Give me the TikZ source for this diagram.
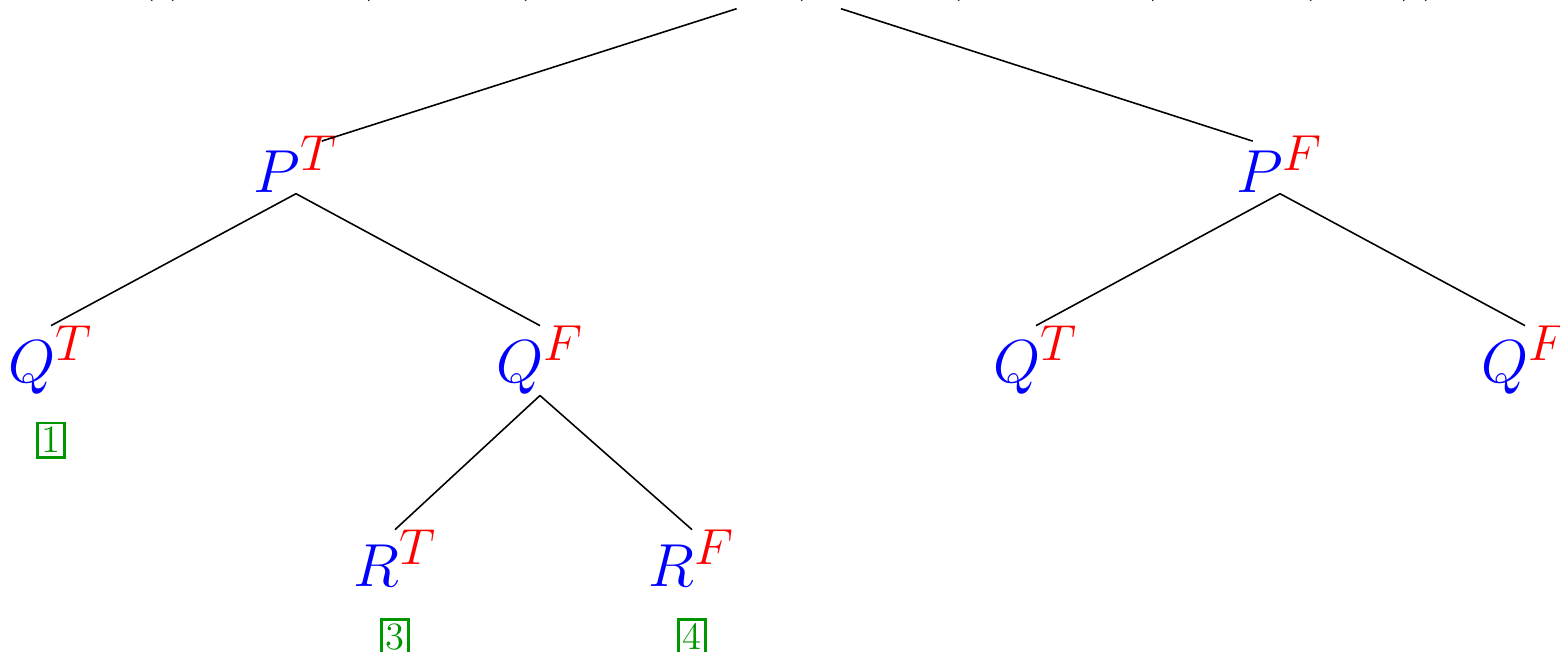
\documentclass[tikz,border=0pt]{standalone}
\usepackage{amsmath,amssymb}
\usepackage{xcolor}
\usepackage{tikz}
\usetikzlibrary{positioning,calc}
\definecolor{leafgreen}{RGB}{0,150,0}
\tikzset{
  lit/.style={font=\fontsize{19}{23}\selectfont,inner sep=0pt,anchor=base},
  branch/.style={line width=0.45pt,draw=black},
  leafnum/.style={draw=leafgreen,text=leafgreen,line width=0.8pt,inner sep=1.2pt,font=\fontsize{11}{13}\selectfont}
}
\newcommand{\atomv}[2]{$\color{blue}#1^{\color{red}#2}$}

\begin{document}
\begin{tikzpicture}[
  x=0.01cm,y=-0.01cm,
  rootf/.style={font=\fontsize{19}{23}\selectfont,inner sep=0pt,text height=0pt,text depth=0.1cm,minimum height=0.32cm},
  topbranch/.style={branch,shorten >=-0.18cm}
]
\useasboundingbox (0,0) rectangle (1560,652);

% root formula, mostly above the page
\node[rootf] (root) at (789,-8)
  {$((P \to Q) \;\,\land\;\, (\neg Q \to \neg R) \;\,\land\;\, (R \to P) \;\,\land\;\, (\neg R))$};

% split on P
\node[lit] (pT) at (296,193) {\atomv{P}{T}};
\node[lit] (pF) at (1280,193) {\atomv{P}{F}};

% split on Q
\node[lit] (qTa) at (51,383) {\atomv{Q}{T}};
\node[lit] (qFa) at (540,383) {\atomv{Q}{F}};
\node[lit] (qTb) at (1036,383) {\atomv{Q}{T}};
\node[lit] (qFb) at (1525,383) {\atomv{Q}{F}};

% split on R
\node[lit] (rT) at (395,587) {\atomv{R}{T}};
\node[lit] (rF) at (692,587) {\atomv{R}{F}};

\draw[topbranch] (root) -- (pT.north east);
\draw[topbranch] (root) -- (pF.north west);

\foreach \a/\b in {pT/qTa,pT/qFa,qFa/rT,qFa/rF,pF/qTb,pF/qFb}{
  \draw[branch] (\a.south) -- (\b.north);
}

% row numbers
\node[leafnum,below=0.26cm of qTa] (n1) {1};
\node[leafnum,below=0.3cm of rT] (n3) {3};
\node[leafnum,below=0.3cm of rF] (n4) {4};

\end{tikzpicture}
\end{document}
